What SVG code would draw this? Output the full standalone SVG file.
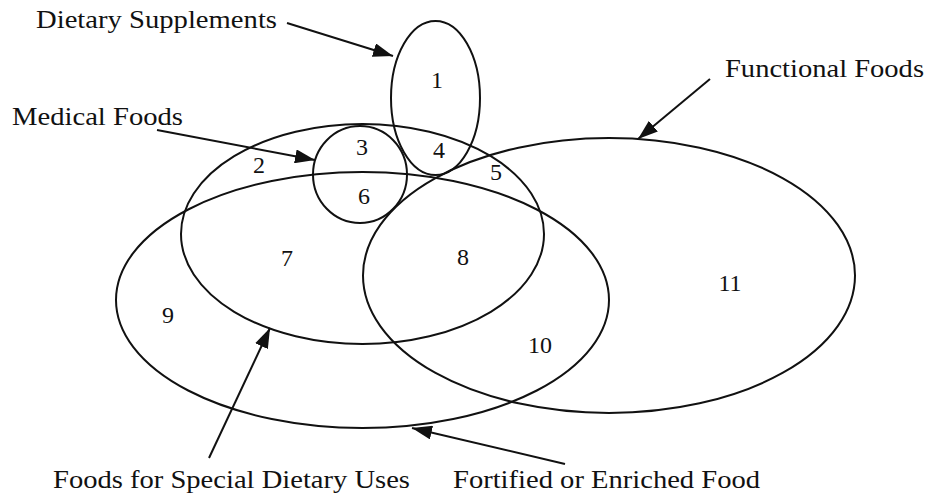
<svg xmlns="http://www.w3.org/2000/svg" width="927" height="495" viewBox="0 0 927 495">
<style>
.set{fill:none;stroke:#111;stroke-width:2}
.lbl{font-family:"Liberation Serif","Times New Roman",serif;font-size:25px;fill:#111}
.num{font-family:"Liberation Serif","Times New Roman",serif;font-size:24px;fill:#111;text-anchor:middle}
.con{fill:none;stroke:#111;stroke-width:2}
</style>
<defs>
<marker id="ah" markerUnits="userSpaceOnUse" markerWidth="20" markerHeight="14" refX="20" refY="7" orient="auto">
<path d="M0,0 L20,7 L0,14 z" fill="#111"/>
</marker>
</defs>
<rect width="927" height="495" fill="#fff"/>
<g id="fortified">
<ellipse class="set" cx="362.5" cy="300" rx="246.5" ry="128"/>
<text class="lbl" x="453" y="488" textLength="307" lengthAdjust="spacingAndGlyphs">Fortified or Enriched Food</text>
</g>
<g id="special-dietary">
<ellipse class="set" cx="362.5" cy="234" rx="181.5" ry="110"/>
<text class="lbl" x="53" y="488" textLength="357" lengthAdjust="spacingAndGlyphs">Foods for Special Dietary Uses</text>
</g>
<g id="functional">
<ellipse class="set" cx="609" cy="275.5" rx="246" ry="137.5"/>
<text class="lbl" x="725" y="77" textLength="199" lengthAdjust="spacingAndGlyphs">Functional Foods</text>
</g>
<g id="supplements">
<ellipse class="set" cx="435.5" cy="98" rx="44.5" ry="77"/>
<text class="lbl" x="36" y="28" textLength="241" lengthAdjust="spacingAndGlyphs">Dietary Supplements</text>
</g>
<g id="medical">
<ellipse class="set" cx="360" cy="174.5" rx="47" ry="48.5"/>
<text class="lbl" x="12" y="125" textLength="171" lengthAdjust="spacingAndGlyphs">Medical Foods</text>
</g>
<g id="regions">
<text class="num" x="437" y="88">1</text>
<text class="num" x="259" y="173">2</text>
<text class="num" x="362" y="155">3</text>
<text class="num" x="439" y="158">4</text>
<text class="num" x="496" y="180">5</text>
<text class="num" x="364" y="204">6</text>
<text class="num" x="287" y="266">7</text>
<text class="num" x="463" y="265">8</text>
<text class="num" x="168" y="323">9</text>
<text class="num" x="540" y="353">10</text>
<text class="num" x="730" y="291">11</text>
</g>
<g id="connectors">
<line class="con" x1="287" y1="23" x2="393" y2="56" marker-end="url(#ah)"/>
<line class="con" x1="157" y1="130" x2="315" y2="160" marker-end="url(#ah)"/>
<line class="con" x1="710" y1="79" x2="638" y2="139" marker-end="url(#ah)"/>
<line class="con" x1="209" y1="458" x2="270" y2="328" marker-end="url(#ah)"/>
<line class="con" x1="565" y1="464" x2="412" y2="428" marker-end="url(#ah)"/>
</g>
</svg>
